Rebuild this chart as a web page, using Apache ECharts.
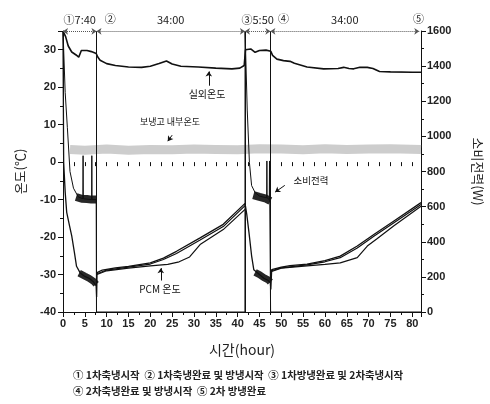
<!DOCTYPE html>
<html>
<head>
<meta charset="utf-8">
<script src="https://cdn.jsdelivr.net/npm/echarts@6/dist/echarts.min.js"></script>
<style>
html,body{margin:0;padding:0;background:#fff;}
#c{width:490px;height:404px;}
</style>
</head>
<body>
<div id="c"></div>
<script>
// ---- data (hours, °C / W) ----
const xTickStep = 5;
const leftTicks = [-40, 35, 10];      // min, max, interval (°C)
const rightTicks = [0, 1600, 200];    // min, max, interval (W)
const phaseTimes = [7.67, 41.67, 47.5];

const outdoorTemp = [[0,35],[0.6,33.5],[1.2,31],[2,29.4],[3,28.6],[3.6,28],[4.2,29.8],[5.5,29.8],[6.5,29.5],[7.6,29],[8,28],[8.5,27.2],[10,26.3],[12,25.8],[15,25.4],[18,25.3],[20,25.6],[22,26.3],[23.7,27],[25,26.2],[27,25.6],[31,25.4],[35,25.1],[38.7,24.9],[40.5,25.1],[41.5,25.8],[41.8,30],[42.2,30.5],[43,30.2],[44,29.3],[45,29.8],[46.5,29.9],[47.6,29.6],[48,28.5],[49,27.5],[50.5,27.1],[52,26.9],[53,26.4],[55.9,25.4],[59.7,24.9],[63,25],[64.3,25.3],[65.5,25],[66.6,24.9],[68,25.3],[69.7,25.3],[71,25],[72.5,24.2],[75,24.1],[80,24],[82,24]];

const insideTemp = [[1.6,3.4],[5,3.2],[10,3.5],[15,3.2],[20,3.4],[25,3.3],[30,3.5],[35,3.4],[40,3.3],[45,3.6],[50,3.5],[55,3.3],[60,3.6],[65,3.4],[70,3.5],[75,3.6],[82,3.4]];

const powerLine = [[0,1600],[0.5,1250],[1,1050],[1.6,800],[2.4,705],[3.5,655],[4.55,645],[4.6,890],[4.65,645],[6.55,640],[6.6,890],[6.65,640],[7.6,640],[7.67,0],[41.67,0],[41.7,1600],[42.2,1150],[42.7,850],[43.2,720],[44,680],[45,660],[46.65,650],[46.7,860],[46.75,650],[47.25,640],[47.3,860],[47.35,640],[47.5,630],[47.55,0],[82,0]];
const powerBand1 = [[3,655],[4.3,645],[5.5,643],[6.5,640],[7.6,640]];
const powerBand2 = [[43.6,665],[45,655],[46.5,645],[47.5,632]];

const pcmA = [[0,35],[0.15,0],[0.5,-8],[0.85,-13.4],[1.5,-17],[2,-19.7],[2.6,-24],[3.1,-27.8],[3.9,-29.5],[5,-30.5],[6,-31],[7,-32],[7.6,-33],[7.7,-36],[7.8,-29.5],[9,-28.8],[12,-28.2],[15,-27.8],[20,-26.9],[23,-25.6],[26,-23.8],[31.4,-20.2],[36.7,-16.6],[41.7,-11],[42.1,-14],[42.6,-18.8],[43.2,-25],[43.7,-28.7],[45,-30],[46,-31],[47,-31.6],[47.5,-32.2],[47.6,-34],[47.8,-28.7],[50,-28],[52,-27.6],[55.9,-27.2],[60,-26.3],[63.5,-25.1],[67.4,-22.4],[71.2,-19.3],[75.8,-15.7],[82,-10.8]];
const pcmB1 = [[7.8,-29.8],[10,-28.8],[15,-28],[20,-27.2],[23,-26],[26,-24.4],[31.4,-20.8],[36.7,-17.2],[41.7,-11.6]];
const pcmB2 = [[47.8,-29],[50,-28.2],[55.9,-27.4],[60,-26.6],[63.5,-25.5],[67.4,-22.9],[71.2,-19.8],[75.8,-16.2],[82,-11.3]];
const pcmC1 = [[7.8,-30],[10,-29],[15,-28.3],[20,-27.7],[24,-27.3],[26.6,-26.6],[29,-25.3],[31.4,-22],[36.7,-18],[41.7,-12.6]];
const pcmC2 = [[47.8,-29.2],[50,-28.3],[55.9,-27.7],[60,-27.3],[63.5,-26.9],[67.4,-25.5],[69.7,-22.4],[72,-20.4],[75.8,-17],[82,-11.8]];
const pcmCharge1 = [[3.7,-29.6],[5,-30.4],[6,-31],[7,-31.8],[7.6,-32.6]];
const pcmCharge2 = [[44,-29.4],[45,-30],[46,-30.8],[47,-31.4],[47.5,-32]];

const topSegments = [[0,7.67,'①7:40'],[7.67,41.67,'34:00'],[41.67,47.5,'③5:50'],[47.5,81.6,'34:00']];
const topMarks = [[10.8,'②'],[50.5,'④'],[81.4,'⑤']];
const notes = [[33,18.2,'실외온도',10],[24.5,10.7,'보냉고 내부온도',9],[56.8,-4.8,'소비전력',9.5],[22.2,-33.8,'PCM 온도',10]];
const noteArrows = [[33.4,20.4,33.4,24.2],[25,7.2,24,5.6],[50.8,-6.2,48.6,-8],[22.4,-31.6,22.4,-28.3]];
const footLines = ['① 1차축냉시작  ② 1차축냉완료 및 방냉시작  ③ 1차방냉완료 및 2차축냉시작','④ 2차축냉완료 및 방냉시작  ⑤ 2차 방냉완료'];

// ---- chart ----
const KR = "'Noto Sans CJK KR', sans-serif";
const NUM = "'Liberation Sans', Arial, sans-serif";
const chart = echarts.init(document.getElementById('c'), null, {renderer:'canvas'});
const axisLineStyle = {color:'#111', width:1};
const tickLbl = {fontFamily:NUM, fontSize:11, fontWeight:'bold', color:'#222'};

function thin(data, w, color){
  return {type:'line', data:data, showSymbol:false, symbol:'none', yAxisIndex:0, xAxisIndex:0,
    lineStyle:{color:color||'#111', width:w}, z:3, silent:true};
}

const markLineData = [];
phaseTimes.forEach(t => markLineData.push({xAxis:t, lineStyle:{color:'#111', width:1, type:'solid'}, label:{show:false}, symbol:'none'}));
topSegments.forEach(s => markLineData.push([
  {coord:[s[0],34.9], name:s[2], symbol:'arrow', symbolSize:5,
   lineStyle:{color:'#555', width:1, type:'dotted'},
   label:{show:true, position:'middle', formatter:'{b}', distance:6, fontFamily:KR, fontSize:11, color:'#222'}},
  {coord:[s[1],34.9], symbol:'arrow', symbolSize:5}
]));
noteArrows.forEach(a => markLineData.push([
  {coord:[a[0],a[1]], symbol:'none', lineStyle:{color:'#111', width:1, type:'solid'}, label:{show:false}},
  {coord:[a[2],a[3]], symbol:'arrow', symbolSize:5}
]));

const markPointData = [];
topMarks.forEach(m => markPointData.push({coord:[m[0],34.9], name:m[1],
  label:{show:true, position:'top', distance:7, formatter:'{b}', fontFamily:KR, fontSize:11, color:'#222'}}));
notes.forEach(n => markPointData.push({coord:[n[0],n[1]], name:n[2],
  label:{show:true, position:'inside', formatter:'{b}', fontFamily:KR, fontSize:n[3], color:'#111'}}));

const option = {
  animation:false,
  backgroundColor:'#fff',
  grid:{left:63, right:69, top:31, bottom:92, containLabel:false, outerBoundsMode:'none'},
  xAxis:[{
    type:'value', min:0, max:82, interval:xTickStep, position:'bottom',
    name:'시간(hour)', nameLocation:'middle', nameGap:31,
    nameTextStyle:{fontFamily:KR, fontSize:14, color:'#222'},
    axisLine:{show:true, onZero:false, lineStyle:axisLineStyle},
    axisTick:{show:true, inside:false, length:5, lineStyle:axisLineStyle},
    minorTick:{show:true, splitNumber:2, length:3, lineStyle:axisLineStyle},
    axisLabel:Object.assign({margin:6, formatter:v => (v % 5 === 0 ? String(v) : '')}, tickLbl),
    splitLine:{show:false}
  },{
    type:'value', min:0, max:82, interval:xTickStep, position:'top',
    axisLine:{show:false},
    axisTick:{show:true, inside:true, length:4, lineStyle:axisLineStyle},
    minorTick:{show:true, splitNumber:2, length:4, lineStyle:axisLineStyle},
    axisLabel:{show:false}, splitLine:{show:false}
  }],
  yAxis:[{
    type:'value', min:leftTicks[0], max:leftTicks[1], interval:leftTicks[2], position:'left',
    name:'온도(℃)', nameLocation:'middle', nameGap:36, nameRotate:90,
    nameTextStyle:{fontFamily:KR, fontSize:13, color:'#222'},
    axisLine:{show:true, onZero:false, lineStyle:axisLineStyle},
    axisTick:{show:true, inside:false, length:5, lineStyle:axisLineStyle},
    minorTick:{show:true, splitNumber:2, length:3, lineStyle:axisLineStyle},
    axisLabel:Object.assign({margin:7, formatter:v => (v === 35 ? '' : String(v))}, tickLbl),
    splitLine:{show:false}
  },{
    type:'value', min:rightTicks[0], max:rightTicks[1], interval:rightTicks[2], position:'right',
    name:'소비전력(W)', nameLocation:'middle', nameGap:50, nameRotate:-90,
    nameTextStyle:{fontFamily:KR, fontSize:13, color:'#222'},
    axisLine:{show:true, onZero:false, lineStyle:axisLineStyle},
    axisTick:{show:true, inside:false, length:5, lineStyle:axisLineStyle},
    minorTick:{show:true, splitNumber:2, length:3, lineStyle:axisLineStyle},
    axisLabel:Object.assign({margin:6, formatter:v => String(v)}, tickLbl),
    splitLine:{show:false}
  }],
  series:[
    Object.assign(thin(insideTemp, 9, '#cdcdcd'), {name:'보냉고 내부온도', z:1}),
    Object.assign(thin(outdoorTemp, 1.6), {name:'실외온도',
      markLine:{silent:true, symbol:['none','none'], animation:false, data:markLineData},
      markPoint:{silent:true, symbol:'rect', symbolSize:1, itemStyle:{color:'rgba(0,0,0,0)'}, data:markPointData}
    }),
    Object.assign(thin(powerLine, 1), {name:'소비전력', yAxisIndex:1}),
    Object.assign(thin(powerBand1, 8, 'rgba(17,17,17,0.9)'), {name:'소비전력 band1', yAxisIndex:1}),
    Object.assign(thin(powerBand2, 8, 'rgba(17,17,17,0.9)'), {name:'소비전력 band2', yAxisIndex:1}),
    Object.assign(thin(pcmA, 1.3), {name:'PCM A'}),
    Object.assign(thin(pcmB1, 1.2), {name:'PCM B1'}),
    Object.assign(thin(pcmB2, 1.2), {name:'PCM B2'}),
    Object.assign(thin(pcmC1, 1.2), {name:'PCM C1'}),
    Object.assign(thin(pcmC2, 1.2), {name:'PCM C2'}),
    Object.assign(thin(pcmCharge1, 7, 'rgba(17,17,17,0.9)'), {name:'PCM charge1'}),
    Object.assign(thin(pcmCharge2, 7, 'rgba(17,17,17,0.9)'), {name:'PCM charge2'})
  ],
  graphic:[
    {type:'text', left:73, top:370, style:{text:footLines[0], font:"bold 10.4px 'Noto Sans CJK KR'", fill:'#222'}},
    {type:'text', left:73, top:386, style:{text:footLines[1], font:"bold 10.4px 'Noto Sans CJK KR'", fill:'#222'}}
  ]
};
chart.setOption(option);
</script>
</body>
</html>
